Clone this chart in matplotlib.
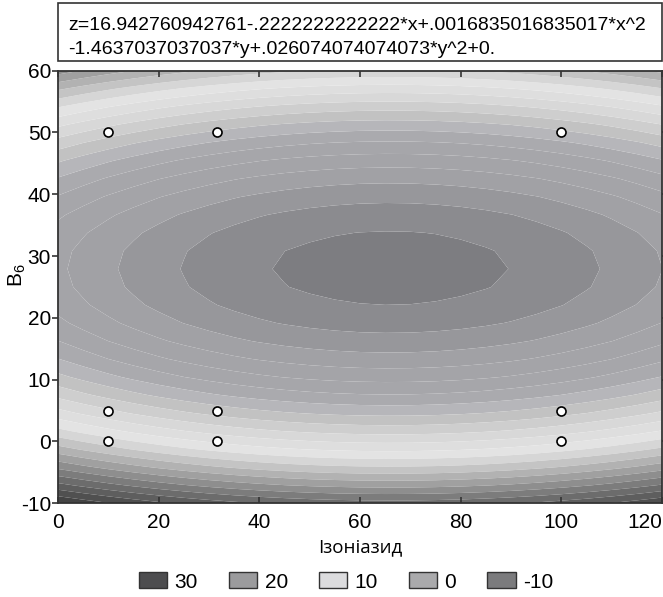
import numpy as np
import matplotlib
matplotlib.use('Agg')
import matplotlib.pyplot as plt
from matplotlib.patches import Rectangle, Patch

plt.rcParams['font.family'] = ['Liberation Sans', 'DejaVu Sans']
plt.rcParams['mathtext.default'] = 'regular'

# fitted surface coefficients, as printed above the plot
coef = [16.942760942761, -0.2222222222222, 0.0016835016835017,
        -1.4637037037037, 0.026074074074073]
eq_line1 = 'z=16.942760942761-.2222222222222*x+.0016835016835017*x^2'
eq_line2 = '-1.4637037037037*y+.026074074074073*y^2+0.'

# design points
iso_x = [10, 10, 10, 31.6, 31.6, 31.6, 100, 100, 100]
b6_y = [0, 5, 50, 0, 5, 50, 0, 5, 50]

# contour levels, grey of each band
levels = [-12, -10, -8, -6, -4, -2, 0, 2, 4, 6, 8, 10, 12, 14, 16, 18,
          20, 22, 24, 26, 28, 30, 32, 34, 36]
band_grey = [125, 139, 151, 161, 164, 166, 170, 182, 194, 206, 216, 222,
             227, 214, 196, 178, 160, 142, 124, 108, 94, 80, 68, 58]

legend_vals = [30, 20, 10, 0, -10]
legend_grey = [77, 155, 220, 170, 123]


def grey(g, tint):
    return (g / 255., g / 255., min(g + tint, 255) / 255.)


xs = np.linspace(0, 120, 25)
ys = np.linspace(-10, 60, 25)
X, Y = np.meshgrid(xs, ys)
Z = coef[0] + coef[1] * X + coef[2] * X ** 2 + coef[3] * Y + coef[4] * Y ** 2

cols = [grey(g, 4 if levels[i] < 4 else 0) for i, g in enumerate(band_grey)]

fig = plt.figure(figsize=(6.63, 5.97), dpi=100)
ax = fig.add_axes([0.0875, 0.157, 0.911, 0.7248])

ax.contourf(X, Y, Z, levels=levels, colors=cols, antialiased=True)
ax.plot(iso_x, b6_y, 'o', markerfacecolor='white', markeredgecolor='black',
        markersize=6.5, markeredgewidth=1.2, linestyle='none')

ax.set_xlim(0, 120)
ax.set_ylim(-10, 60)
ax.set_xticks([0, 20, 40, 60, 80, 100, 120])
ax.set_yticks([-10, 0, 10, 20, 30, 40, 50, 60])
ax.set_yticklabels(['-10', '0', '10', '20', '30', '40', '50', '60'])
ax.tick_params(axis='both', labelsize=15, color='#333333', length=4, width=1.2)
ax.tick_params(axis='x', direction='in', top=True, pad=7)
ax.tick_params(axis='y', direction='out', right=True, pad=1)
ax.get_xticklabels()[-1].set_horizontalalignment('right')
for s in ax.spines.values():
    s.set_color('#333333')
    s.set_linewidth(1.3)

ax.set_xlabel('Ізоніазид', fontsize=13.5, family=['Open Sans', 'DejaVu Sans'])
ax.xaxis.set_label_coords(0.5, -0.08)
ax.set_ylabel('B$_6$', fontsize=15)
ax.yaxis.set_label_coords(-0.05, 0.528)

# equation box above the plot
fig.patches.append(Rectangle((0.0875, 0.897), 0.911, 0.098,
                             transform=fig.transFigure, facecolor='white',
                             edgecolor='#333333', linewidth=1.2))
fig.text(0.103, 0.958, eq_line1, fontsize=14, va='center', ha='left')
fig.text(0.103, 0.917, eq_line2, fontsize=14, va='center', ha='left')

handles = [Patch(facecolor=grey(g, 2), edgecolor='#333333', linewidth=1.0)
           for g in legend_grey]
fig.legend(handles, [str(v) for v in legend_vals], loc='lower center',
           bbox_to_anchor=(0.522, -0.012), ncol=5, frameon=False, fontsize=15,
           handlelength=1.35, handleheight=0.8, columnspacing=1.5,
           handletextpad=0.35, borderpad=0.1)

fig.savefig('out.png', dpi=100)
